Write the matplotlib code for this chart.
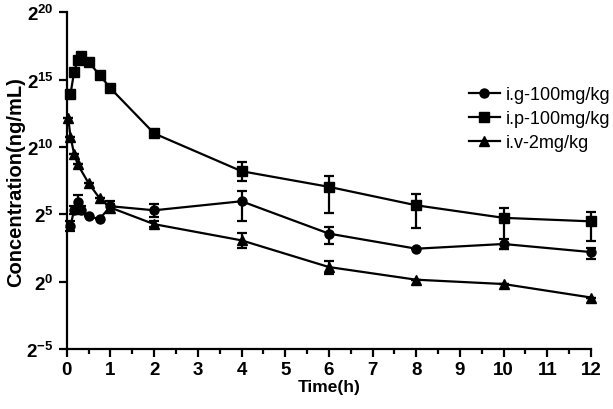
import numpy as np
import matplotlib
matplotlib.use("Agg")
import matplotlib.pyplot as plt
from matplotlib.lines import Line2D
from matplotlib.ticker import FixedLocator, FixedFormatter, MultipleLocator, NullLocator

plt.rcParams['font.family'] = ['Liberation Sans', 'DejaVu Sans']
plt.rcParams['mathtext.fontset'] = 'custom'
plt.rcParams['mathtext.rm'] = 'Liberation Sans:bold'
plt.rcParams['mathtext.it'] = 'Liberation Sans:bold'
plt.rcParams['mathtext.bf'] = 'Liberation Sans:bold'
plt.rcParams['mathtext.default'] = 'rm'

# ---- data (concentrations expressed as log2 exponents) ----
series_names = ["i.g-100mg/kg", "i.p-100mg/kg", "i.v-2mg/kg"]

t_ig = [0.083, 0.167, 0.25, 0.333, 0.5, 0.75, 1, 2, 4, 6, 8, 10, 12]
log2_ig = [4.15, 5.3, 5.9, 5.35, 4.85, 4.65, 5.6, 5.3, 5.97, 3.57, 2.45, 2.8, 2.2]
up_ig = [0.37, 0.3, 0.5, 0.3, 0.0, 0.0, 0.4, 0.48, 0.74, 0.5, 0.0, 0.4, 0.3]
dn_ig = [0.37, 0.3, 0.75, 0.3, 0.0, 0.0, 0.4, 0.49, 1.5, 0.74, 0.0, 0.4, 0.5]

t_ip = [0.083, 0.167, 0.25, 0.333, 0.5, 0.75, 1, 2, 4, 6, 8, 10, 12]
log2_ip = [13.9, 15.56, 16.45, 16.75, 16.3, 15.34, 14.35, 11.0, 8.2, 7.04, 5.67, 4.74, 4.48]
up_ip = [0, 0, 0, 0, 0, 0, 0, 0, 0.7, 0.84, 0.85, 0.74, 0.67]
dn_ip = [0, 0, 0, 0, 0, 0, 0, 0, 0.74, 1.94, 1.68, 2.31, 1.43]

t_iv = [0.033, 0.083, 0.167, 0.25, 0.5, 0.75, 1, 2, 4, 6, 8, 10, 12]
log2_iv = [12.15, 10.76, 9.5, 8.7, 7.3, 6.2, 5.5, 4.27, 3.07, 1.09, 0.15, -0.17, -1.17]
up_iv = [0, 0, 0, 0, 0, 0, 0.3, 0.2, 0.57, 0.48, 0, 0, 0]
dn_iv = [0, 0, 0, 0, 0, 0, 0.3, 0.2, 0.57, 0.48, 0, 0, 0]

x_ticks = list(range(0, 13))
y_exps = [-5, 0, 5, 10, 15, 20]
y_tick_labels = [r"$2^{%d}$" % e for e in y_exps]

fig = plt.figure(figsize=(6.13, 4.10), dpi=100)
ax = fig.add_axes([0.109, 0.146, 0.855, 0.822])

markers = ['o', 's', '^']
msizes = [6.5, 7.5, 7.0]
data = [(t_ig, log2_ig, up_ig, dn_ig), (t_ip, log2_ip, up_ip, dn_ip), (t_iv, log2_iv, up_iv, dn_iv)]

handles = []
for (t, e, up, dn), name, m, ms in zip(data, series_names, markers, msizes):
    e = np.array(e, float)
    y = 2.0 ** e
    lo = y - 2.0 ** (e - np.array(dn))
    hi = 2.0 ** (e + np.array(up)) - y
    cont = ax.errorbar(t, y, yerr=[lo, hi], color='black', marker=m, markersize=ms,
                       linewidth=1.6, elinewidth=1.6, capsize=3.5, capthick=1.6,
                       zorder=3)
    for art in [cont.lines[0]] + list(cont.lines[1]) + list(cont.lines[2]):
        art.set_clip_on(False)
    handles.append(Line2D([], [], color='black', marker=m, markersize=ms,
                          linewidth=1.6, label=name))

ax.set_yscale('log', base=2)
ax.set_ylim(2.0 ** -5, 2.0 ** 20)
ax.set_xlim(0, 12)
ax.yaxis.set_major_locator(FixedLocator([2.0 ** e for e in y_exps]))
ax.yaxis.set_major_formatter(FixedFormatter(y_tick_labels))
ax.yaxis.set_minor_locator(NullLocator())
ax.set_xticks(x_ticks)
ax.xaxis.set_minor_locator(MultipleLocator(0.5))

for s in ['top', 'right']:
    ax.spines[s].set_visible(False)
for s in ['left', 'bottom']:
    ax.spines[s].set_linewidth(1.6)
ax.tick_params(axis='both', which='major', direction='out', length=6, width=1.6,
               labelsize=13.5)
ax.tick_params(axis='x', which='major', pad=2.5)
ax.tick_params(axis='x', which='minor', direction='out', length=3.5, width=1.6)
for lab in ax.get_xticklabels():
    lab.set_fontweight('bold')

ax.set_xlabel("Time(h)", fontsize=12.5, fontweight='bold', labelpad=1)
ax.set_ylabel("Concentration(ng/mL)", fontsize=14.5, fontweight='bold', labelpad=1)

fig.legend(handles=handles, loc='upper left', bbox_to_anchor=(0.765, 0.787),
           frameon=False, fontsize=13, handlelength=1.7, handletextpad=0.35,
           labelspacing=0.38, borderaxespad=0, borderpad=0)

fig.savefig("out.png", dpi=100)
